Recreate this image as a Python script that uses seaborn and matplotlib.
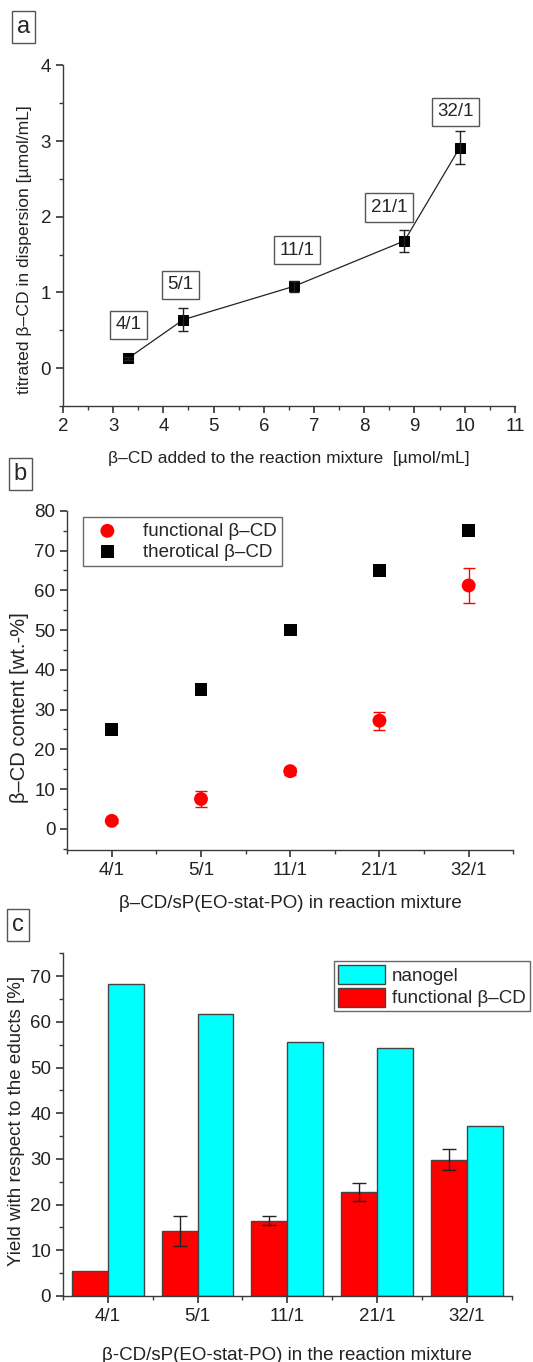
import numpy as np
import pandas as pd
import matplotlib
matplotlib.use("Agg")
import matplotlib.pyplot as plt
import seaborn as sns

# -------------------------------------------------------------------
# Data
# -------------------------------------------------------------------

ratios = ["4/1", "5/1", "11/1", "21/1", "32/1"]

# panel a
cd_added = [3.3, 4.4, 6.6, 8.8, 9.9]
cd_titrated = [0.13, 0.64, 1.08, 1.68, 2.91]
cd_titrated_err = [0.02, 0.15, 0.07, 0.14, 0.22]

# panel b
functional_wt = [2.0, 7.5, 14.5, 27.2, 61.2]
functional_wt_err = [0.5, 1.9, 0.9, 2.3, 4.5]
theoretical_wt = [25, 35, 50, 65, 75]

# panel c
yield_nanogel = [68.2, 61.7, 55.7, 54.2, 37.1]
yield_functional = [5.5, 14.3, 16.5, 22.7, 29.8]
yield_functional_err = [0.0, 3.3, 1.05, 2.0, 2.3]

# label offsets in points for the ratio boxes in panel a
label_offsets = [(0, 24), (-2, 25), (2, 26), (-11, 24), (-3, 26)]

# -------------------------------------------------------------------
# Style
# -------------------------------------------------------------------

sns.set_theme(style="ticks")
plt.rcParams["font.family"] = ["Liberation Sans", "DejaVu Sans"]
plt.rcParams["font.size"] = 13
dark = "#3a3a3a"
plt.rcParams.update({
    "axes.edgecolor": dark,
    "axes.linewidth": 1.0,
    "xtick.color": dark,
    "ytick.color": dark,
    "xtick.labelcolor": "#222222",
    "ytick.labelcolor": "#222222",
    "xtick.labelsize": 13.5,
    "ytick.labelsize": 13.5,
    "xtick.major.size": 5,
    "ytick.major.size": 5,
    "xtick.minor.size": 3,
    "ytick.minor.size": 3,
    "axes.labelcolor": "#222222",
})

fig = plt.figure(figsize=(5.33, 13.62), dpi=100)
ax_a = fig.add_axes([0.118, 0.702, 0.848, 0.250])
ax_b = fig.add_axes([0.126, 0.376, 0.837, 0.249])
ax_c = fig.add_axes([0.118, 0.0485, 0.842, 0.2515])

for ax in (ax_a, ax_b, ax_c):
    sns.despine(ax=ax)


def panel_tag(ax_fig_x, ax_fig_y, letter):
    fig.text(ax_fig_x, ax_fig_y, letter, fontsize=17, ha="left", va="top",
             bbox=dict(boxstyle="square,pad=0.22", fc="white", ec="#555555", lw=1))


# -------------------------------------------------------------------
# Panel a
# -------------------------------------------------------------------

sns.lineplot(x=cd_added, y=cd_titrated, ax=ax_a, color="#222222", lw=0.9,
             marker="s", markersize=6.5, markeredgecolor="black", mfc="black")
ax_a.errorbar(cd_added, cd_titrated, yerr=cd_titrated_err, fmt="none",
              ecolor="#222222", elinewidth=1, capsize=3.5)
for x, y, lab, off in zip(cd_added, cd_titrated, ratios, label_offsets):
    ax_a.annotate(lab, (x, y), xytext=off, textcoords="offset points",
                  ha="center", va="center", fontsize=13.5,
                  bbox=dict(boxstyle="square,pad=0.3", fc="white", ec="#555555", lw=1))
ax_a.set_xlim(2, 11)
ax_a.set_ylim(-0.5, 4)
ax_a.set_xticks(range(2, 12))
ax_a.set_xticks(np.arange(2.5, 11, 1), minor=True)
ax_a.set_yticks(range(0, 5))
ax_a.set_yticks(np.arange(-0.5, 4, 1), minor=True)
ax_a.set_xlabel("\u03b2\u2013CD added to the reaction mixture  [\u00b5mol/mL]",
                fontsize=12.5, labelpad=12)
ax_a.set_ylabel("titrated \u03b2\u2013CD in dispersion [\u00b5mol/mL]", fontsize=12.6)
ax_a.yaxis.set_label_coords(-0.068, 0.46)
panel_tag(0.032, 1 - 16 / 1362, "a")

# -------------------------------------------------------------------
# Panel b
# -------------------------------------------------------------------

sns.scatterplot(x=ratios, y=functional_wt, ax=ax_b, color="#ff0000", marker="o",
                s=100, edgecolor="none", label="functional \u03b2\u2013CD", zorder=3)
sns.scatterplot(x=ratios, y=theoretical_wt, ax=ax_b, color="black", marker="s",
                s=85, edgecolor="none", label="therotical \u03b2\u2013CD", zorder=3)
ax_b.errorbar(ratios, functional_wt, yerr=functional_wt_err, fmt="none",
              ecolor="#ff0000", elinewidth=1, capsize=4, zorder=2)
ax_b.set_xlim(-0.5, 4.5)
ax_b.set_ylim(-5.3, 80)
ax_b.set_yticks(range(0, 81, 10))
ax_b.set_yticks(range(-5, 80, 10), minor=True)
ax_b.set_xticks(np.arange(-0.5, 4.6, 1), minor=True)
ax_b.set_xlabel("\u03b2\u2013CD/sP(EO-stat-PO) in reaction mixture", fontsize=13.5,
                labelpad=12)
ax_b.set_ylabel("\u03b2\u2013CD content [wt.-%]", fontsize=14.5)
ax_b.yaxis.set_label_coords(-0.085, 0.42)
leg_b = ax_b.legend(loc="upper left", bbox_to_anchor=(83 / 533, 1 - 517 / 1362),
                    bbox_transform=fig.transFigure, fontsize=13.5, frameon=True,
                    fancybox=False, borderpad=0.3, handletextpad=0.9,
                    labelspacing=0.2, borderaxespad=0)
leg_b.get_frame().set_edgecolor("#444444")
leg_b.get_frame().set_linewidth(1)
panel_tag(0.026, 1 - 463 / 1362, "b")

# -------------------------------------------------------------------
# Panel c
# -------------------------------------------------------------------

yield_df = pd.DataFrame({
    "ratio": ratios * 2,
    "yield": yield_functional + yield_nanogel,
    "series": ["functional \u03b2\u2013CD"] * 5 + ["nanogel"] * 5,
})
sns.barplot(data=yield_df, x="ratio", y="yield", hue="series", ax=ax_c,
            palette=["#ff0000", "#00ffff"], width=0.8, edgecolor="#444444",
            linewidth=1, saturation=1, errorbar=None, dodge=True)
red_bars = ax_c.patches[:5]
err_pts = [(p.get_x() + p.get_width() / 2, v, e)
           for p, v, e in zip(red_bars, yield_functional, yield_functional_err) if e > 0]
ax_c.errorbar([t[0] for t in err_pts], [t[1] for t in err_pts],
              yerr=[t[2] for t in err_pts], fmt="none",
              ecolor="#222222", elinewidth=1, capsize=5, zorder=4)
ax_c.set_xlim(-0.5, 4.5)
ax_c.set_ylim(0, 75)
ax_c.set_yticks(range(0, 71, 10))
ax_c.set_yticks(range(5, 76, 10), minor=True)
ax_c.set_xticks(np.arange(-0.5, 4.6, 1), minor=True)
ax_c.set_xlabel("\u03b2-CD/sP(EO-stat-PO) in the reaction mixture", fontsize=13.5,
                labelpad=16)
ax_c.set_ylabel("Yield with respect to the educts [%]", fontsize=13.5)
ax_c.yaxis.set_label_coords(-0.085, 0.51)
handles, labels = ax_c.get_legend_handles_labels()
leg_c = ax_c.legend(handles[::-1], labels[::-1], loc="upper left",
                    bbox_to_anchor=(334 / 533, 1 - 961 / 1362),
                    bbox_transform=fig.transFigure, fontsize=13.5, frameon=True,
                    fancybox=False, borderpad=0.2, handlelength=2.5,
                    handleheight=1.2, handletextpad=0.4, labelspacing=0.15,
                    borderaxespad=0)
leg_c.get_frame().set_edgecolor("#444444")
leg_c.get_frame().set_linewidth(1)
panel_tag(0.022, 1 - 914 / 1362, "c")

fig.savefig("out.png", dpi=100)
